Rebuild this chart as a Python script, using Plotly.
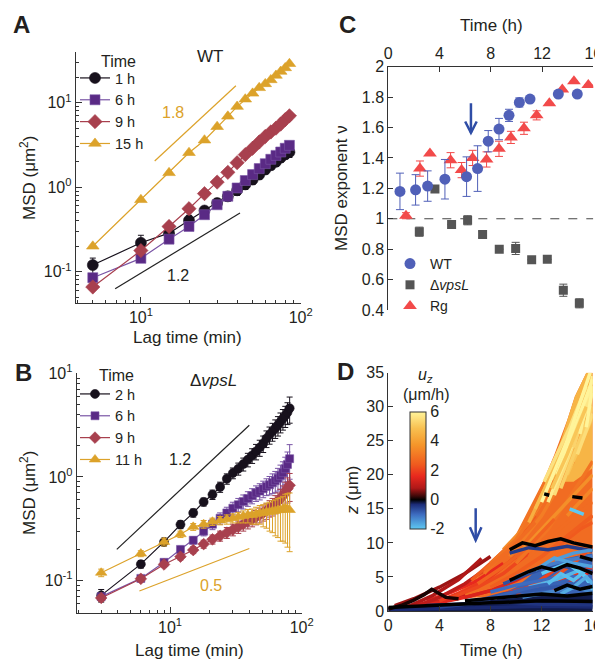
import plotly.graph_objects as go
from plotly.colors import sample_colorscale

FONT = "Liberation Sans, Arial, sans-serif"
TXT = "#231f20"
W, H = 603, 660
PAGE_OFF = 8  # page body margin in the browser

# ---------------- Panel A (WT) ----------------
lag_a = [5, 10, 15, 20, 25, 30, 35, 40, 45, 50, 55, 60, 65, 70, 75, 80, 85]
msd_a_1h = [0.12, 0.22, 0.286, 0.405, 0.53, 0.65, 0.78, 0.92, 1.08, 1.23, 1.41, 1.62, 1.82, 2.0, 2.24, 2.45, 2.6]
err_a_1h = [0.025, 0.05, 0.04, 0.06, 0.06, 0.08, 0.1, 0.12, 0.14, 0.15, 0.17, 0.19, 0.21, 0.24, 0.27, 0.3, 0.35]
msd_a_6h = [0.085, 0.144, 0.243, 0.343, 0.473, 0.62, 0.78, 0.98, 1.2, 1.41, 1.66, 1.9, 2.14, 2.38, 2.61, 2.89, 3.13]
err_a_6h = [0.006, 0.01, 0.015, 0.02, 0.025, 0.03, 0.04, 0.05, 0.06, 0.07, 0.08, 0.09, 0.1, 0.11, 0.12, 0.13, 0.14]
msd_a_9h = [0.066, 0.178, 0.343, 0.557, 0.84, 1.15, 1.5, 1.95, 2.43, 2.89, 3.43, 3.98, 4.5, 5.0, 5.6, 6.3, 7.0]
msd_a_15h = [0.2, 0.71, 1.48, 2.56, 3.6, 5.2, 6.9, 9.0, 11, 12.9, 15, 16.7, 18.6, 21, 23.4, 25.8, 28.9]
ref_a18_x = [12.2, 39.3]
ref_a18_y = [2.04, 15.9]
ref_a12_x = [6.9, 41.7]
ref_a12_y = [0.063, 0.494]

# ---------------- Panel B (delta vpsL) ----------------
lag_b = [3, 6, 9, 12, 15, 18, 21, 24, 27, 30, 33, 36, 39, 42, 45, 48, 51, 54, 57, 60, 63, 66, 69, 72, 75, 78, 81]
msd_b_2h = [0.072, 0.144, 0.236, 0.347, 0.45, 0.574, 0.676, 0.80, 0.96, 1.09, 1.2, 1.33, 1.47, 1.61, 1.76,
            1.92, 2.1, 2.35, 2.55, 2.75, 2.95, 3.15, 3.4, 3.65, 3.9, 4.2, 4.6]
err_b_2h = [0.01, 0.012, 0.02, 0.03, 0.04, 0.05, 0.07, 0.09, 0.11, 0.13, 0.16, 0.19, 0.22, 0.26, 0.3, 0.34,
            0.38, 0.43, 0.48, 0.54, 0.6, 0.67, 0.74, 0.82, 0.9, 1.0, 1.3]
msd_b_6h = [0.07, 0.105, 0.15, 0.2, 0.245, 0.30, 0.35, 0.40, 0.45, 0.50, 0.54, 0.58, 0.62, 0.66, 0.70, 0.73,
            0.77, 0.81, 0.84, 0.88, 0.92, 0.97, 1.03, 1.1, 1.2, 1.32, 1.5]
err_b_6h = [0.005, 0.007, 0.01, 0.015, 0.02, 0.03, 0.04, 0.05, 0.06, 0.07, 0.08, 0.09, 0.1, 0.11, 0.12, 0.13,
            0.14, 0.15, 0.17, 0.19, 0.21, 0.24, 0.27, 0.3, 0.35, 0.42, 0.55]
msd_b_9h = [0.068, 0.104, 0.143, 0.17, 0.197, 0.225, 0.25, 0.27, 0.29, 0.31, 0.33, 0.35, 0.37, 0.39, 0.41, 0.43,
            0.45, 0.47, 0.5, 0.52, 0.55, 0.58, 0.62, 0.66, 0.71, 0.77, 0.83]
err_b_9h = [0.005, 0.006, 0.008, 0.012, 0.015, 0.02, 0.025, 0.03, 0.035, 0.04, 0.045, 0.05, 0.055, 0.06, 0.065,
            0.07, 0.075, 0.08, 0.09, 0.1, 0.11, 0.12, 0.14, 0.16, 0.18, 0.21, 0.25]
msd_b_11h = [0.119, 0.182, 0.236, 0.28, 0.33, 0.35, 0.37, 0.38, 0.39, 0.40, 0.41, 0.42, 0.43, 0.43, 0.44, 0.45,
             0.45, 0.46, 0.46, 0.47, 0.47, 0.48, 0.48, 0.49, 0.50, 0.49, 0.48]
err_b_11h_up = [0.01, 0.012, 0.02, 0.02, 0.025, 0.03, 0.03, 0.035, 0.04, 0.04, 0.045, 0.05, 0.055, 0.06, 0.07,
                0.08, 0.09, 0.1, 0.11, 0.12, 0.13, 0.14, 0.15, 0.16, 0.18, 0.2, 0.22]
err_b_11h_dn = [0.01, 0.012, 0.02, 0.02, 0.025, 0.03, 0.03, 0.035, 0.04, 0.04, 0.05, 0.06, 0.07, 0.08, 0.09,
                0.1, 0.12, 0.14, 0.16, 0.18, 0.2, 0.22, 0.24, 0.25, 0.27, 0.28, 0.29]
ref_b12_x = [3.94, 40.0]
ref_b12_y = [0.2, 3.15]
ref_b05_x = [5.85, 40.0]
ref_b05_y = [0.0794, 0.204]

# ---------------- Panel C (MSD exponent) ----------------
c_wt_t = [0.91, 2.13, 3.07, 4.42, 6.11, 6.97, 7.8, 8.64, 9.42, 10.23, 11.06, 13.27, 14.75]
c_wt_v = [1.18, 1.19, 1.215, 1.26, 1.277, 1.33, 1.51, 1.59, 1.68, 1.765, 1.787, 1.82, 1.82]
c_wt_e = [0.12, 0.1, 0.1, 0.13, 0.13, 0.15, 0.07, 0.07, 0.04, 0.03, 0.01, 0.01, 0.01]
c_dv_t = [2.42, 3.64, 4.94, 6.19, 7.36, 8.66, 9.94, 11.19, 12.41, 13.66, 14.91]
c_dv_v = [0.915, 1.195, 0.963, 0.99, 0.897, 0.80, 0.805, 0.73, 0.733, 0.53, 0.444]
c_dv_e = [0.03, 0.02, 0.0, 0.03, 0.02, 0.0, 0.04, 0.0, 0.0, 0.04, 0.03]
c_rg_t = [1.38, 2.47, 3.25, 4.86, 5.72, 6.58, 7.67, 8.64, 9.57, 10.59, 11.58, 12.57, 13.58, 14.49, 15.61]
c_rg_v = [1.02, 1.33, 1.43, 1.385, 1.32, 1.40, 1.39, 1.46, 1.535, 1.595, 1.68, 1.76, 1.85, 1.905, 1.88]
c_rg_e = [0.02, 0.05, 0.0, 0.05, 0.05, 0.05, 0.05, 0.05, 0.04, 0.04, 0.03, 0.0, 0.0, 0.0, 0.0]
c_ref_level = 1.0
c_arrow = dict(t=6.45, top=1.76, tip=1.565)

# ---------------- Panel D (trajectories) ----------------
uz_min, uz_max = -2, 6
# outline of the dense orange cloud of trajectory points
cloud_t = [5, 6, 7, 8, 9, 9.8, 11, 12, 13, 14, 14.6, 15.5, 16, 16, 13, 10, 7, 5]
cloud_z = [2.2, 3.5, 5, 7, 8.8, 10.5, 14.5, 18.5, 23, 28, 31.5, 35, 35, 3, 2.5, 2, 2, 1.8]
cloud_u = 2.8
# outline of the fast (yellow) upper part of the cloud
yellow_t = [12.4, 13.5, 14.6, 15.5, 16, 16, 14.5, 13]
yellow_z = [20, 25, 31.5, 35, 35, 21, 19, 19]
yellow_u = 4.6
# outline of the dense blue (sinking) mass, lower right
bluemass_t = [8.5, 10, 11, 12, 13, 14, 15, 16, 16, 12, 8.5]
bluemass_z = [2.2, 3.5, 5.0, 6.5, 7.2, 7.8, 8.2, 8.5, 1.2, 1.5, 1.5]
bluemass_u = -0.9
# outline of the dark band near the substrate
band_t = [0, 4, 8, 12, 16, 16, 0]
band_z = [0.5, 0.9, 1.6, 2.2, 2.4, 0, 0]
band_u = -0.2

traj_t = [
    # red / dark red early
    [0, 2, 4, 6], [2, 4, 6, 8], [3, 5, 7, 9], [4, 6, 8, 10], [5, 7, 9, 11], [6, 8, 10, 12],
    [0.5, 2, 4, 6, 8], [1.5, 3.5, 5.5, 7.3], [2, 4, 6, 7.5], [6.5, 8, 9.8, 11.5], [7.5, 9.8, 12.4],
    # orange
    [9, 11, 13, 15], [9.5, 12, 14.5], [10, 12.5, 15, 16], [8, 10, 12], [7.5, 9.5, 11.5], [10.5, 13, 16],
    [11, 14, 16], [12, 14, 16], [13, 15, 16], [7, 9, 11, 13], [14, 16],
    # yellow
    [11, 13, 15], [11.5, 13.5, 15.2], [12.2, 14.2, 15.5], [14, 16], [13.5, 16], [13, 15, 16], [12.5, 14.5, 16],
    [12.0, 14.0, 15.8], [14.5, 16], [15, 16], [13.2, 14.6, 16], [13.8, 15, 16], [14.8, 16], [12.8, 14, 15.5],
    [15.5, 16],
]
traj_z = [
    [0.4, 0.8, 1.5, 2.5], [0.6, 1.2, 2.0, 3.0], [1.5, 2.8, 4.5, 7.0], [1.5, 3.0, 5.0, 8.0], [2, 3.5, 5.5, 8.5],
    [2, 3, 4.5, 6.5],
    [0.8, 1.8, 3.5, 5.5, 8.0], [0.6, 2.3, 4.6, 7.7], [0.6, 2.0, 4.0, 6.0], [4.5, 7.0, 10.2, 14.0],
    [5.5, 10.0, 19.5],
    [9, 13, 19, 26], [8, 14, 22], [7, 12, 19, 22], [7, 10.5, 16], [6, 9, 13], [9, 14, 20],
    [8, 13, 16], [8, 11, 14], [9, 12, 13], [4, 6.5, 9.5, 13.5], [14, 18],
    [13, 21, 29], [15, 23, 31], [19, 27, 33], [20, 28.5], [18, 30], [17, 27, 32], [16, 25, 33],
    [16, 25, 35], [24, 33], [26, 34.5], [20, 27, 34], [22, 28, 32], [23, 29], [18, 23, 30],
    [27, 33],
]
traj_u = [
    1.2, 1.5, 1.6, 1.9, 2.1, 1.4,
    0.7, 0.8, 1.0, 2.4, 3.0,
    3.5, 3.2, 3.0, 3.0, 2.8, 3.6, 2.8, 2.6, 2.4, 2.6, 3.4,
    4.4, 4.8, 5.6, 5.0, 5.2, 5.5, 5.8, 6.0, 5.3, 5.9, 6.0, 5.7, 5.5, 5.0,
    6.0,
]
# trajectories drawn over the blue mass (lower right), then blue and black ones
late_t = [
    [9, 12, 14, 16], [8, 10, 12, 14, 16], [11, 13, 14.5, 16], [12.5, 14, 16], [10, 11.5, 13],
    [0, 3, 6, 9, 12, 16], [3, 6, 9, 12, 16], [7, 9, 11, 13, 15, 16], [8, 10, 12, 14, 16], [9, 11, 13, 15, 16],
    [10, 12, 14, 16], [9.5, 11, 12.5, 14, 16], [11, 13, 15, 16], [12, 14, 15.5, 16], [13, 14.5, 16],
    [10.5, 12.5, 14.5, 16], [14.2, 15.3], [4, 6, 8], [8.5, 10.5, 12, 13.5, 16], [11.5, 13, 14.5, 16],
    [12.5, 13.5, 14.5, 15.5], [13.5, 14.5, 15.5, 16],
    [0, 1, 2, 2.8, 3.4, 3.9, 4.5, 5.5], [9.5, 10.5, 11.5, 12.5, 13.5, 14.5, 16],
    [9.5, 11, 12, 13, 14, 15, 16], [6, 9, 12, 14, 16], [0, 4, 8, 12, 16], [12.2, 12.6], [14.4, 15.2], [15, 16],
    [13, 14, 15, 16],
]
late_z = [
    [2.5, 4.0, 5.0, 6.5], [3.5, 5.5, 8, 11, 14], [3.0, 5.0, 7.0, 9.5], [2.5, 4.0, 6.0], [2.5, 4.0, 6.0],
    [0.2, 0.3, 0.5, 0.6, 0.7, 0.6], [0.8, 1.0, 1.3, 1.0, 0.9], [1.5, 2.5, 3.0, 3.5, 4.0, 3.5],
    [2.8, 3.8, 4.5, 5.2, 4.5], [4.0, 5.5, 6.8, 6.2, 5.8], [5.0, 6.5, 7.5, 8.0], [8.5, 9.3, 9.0, 9.5, 8.8],
    [3.5, 4.5, 6.0, 3.5], [5.5, 7.0, 5.0, 3.0], [7.5, 8.5, 9.0], [2.0, 2.8, 3.5, 2.8], [15.0, 14.2],
    [0.6, 1.0, 1.4], [2.0, 3.2, 3.8, 4.2, 3.8], [6.0, 7.8, 7.0, 6.5],
    [4.0, 5.5, 4.5, 6.0], [2.5, 3.5, 5.0, 4.0],
    [0.3, 0.8, 1.6, 2.4, 3.2, 2.6, 2.0, 1.8], [9.0, 10.0, 9.6, 10.2, 10.6, 10.0, 9.4],
    [4.5, 5.8, 6.5, 6.0, 6.8, 6.3, 5.5], [1.5, 2.0, 2.5, 2.2, 2.6], [0.5, 0.9, 1.2, 1.5, 1.4], [17.2, 17.0],
    [16.8, 16.6], [8, 7.5],
    [3.0, 3.8, 3.2, 3.6],
]
late_u = [
    1.8, 2.5, 2.2, 1.6, 2.0,
    -0.3, -0.4, -0.8, -1.0, -0.7, -1.2, -0.5, -1.8, -2.0, -1.5, -1.3, -2.0, -0.6, -0.9, -1.6,
    -1.9, -1.7,
    0.1, 0.0, 0.0, 0.0, 0.0, 0.0, 0.0, 0.0,
    0.0,
]
d_arrow = dict(t=6.84, top=15.1, tip=10.4)

uz_scale = [
    [0.0, "#5ec8f2"], [0.125, "#3d6cc0"], [0.21, "#1c2c78"], [0.25, "#000000"], [0.28, "#3a0808"],
    [0.35, "#b01818"], [0.45, "#e8281e"], [0.55, "#f05a1e"], [0.72, "#f5962a"], [0.86, "#f8c050"],
    [1.0, "#fff49a"],
]


def ucol(u):
    return sample_colorscale(uz_scale, [(u - uz_min) / (uz_max - uz_min)])[0]


C_BLACK = "#17111c"
C_PURPLE = "#5a2a85"
C_PURPLE_L = "#7a55a6"
C_RED = "#a8404e"
C_GOLD = "#dca22a"

fig = go.Figure()


def msd_trace(x, y, err, color, lcolor, symbol, name, xa, ya, legend, size, err_dn=None):
    ey = None
    if err is not None:
        ey = dict(type="data", array=err, color=lcolor, thickness=1, width=3)
        if err_dn is not None:
            ey["arrayminus"] = err_dn
            ey["symmetric"] = False
    fig.add_trace(go.Scatter(
        x=x, y=y, mode="lines+markers", name=name, xaxis=xa, yaxis=ya, legend=legend,
        line=dict(color=lcolor, width=1.2),
        marker=dict(symbol=symbol, size=size, color=color, line=dict(color=lcolor, width=0.6)),
        error_y=ey,
    ))


# Panel A traces
fig.add_trace(go.Scatter(x=ref_a18_x, y=ref_a18_y, mode="lines", xaxis="x", yaxis="y",
                         line=dict(color=C_GOLD, width=1.2), showlegend=False))
fig.add_trace(go.Scatter(x=ref_a12_x, y=ref_a12_y, mode="lines", xaxis="x", yaxis="y",
                         line=dict(color="#222", width=1.2), showlegend=False))
msd_trace(lag_a, msd_a_1h, err_a_1h, C_BLACK, C_BLACK, "circle", "1 h", "x", "y", "legend", 11)
msd_trace(lag_a, msd_a_6h, err_a_6h, C_PURPLE, C_PURPLE_L, "square", "6 h", "x", "y", "legend", 10)
msd_trace(lag_a, msd_a_9h, None, C_RED, C_RED, "diamond", "9 h", "x", "y", "legend", 11)
msd_trace(lag_a, msd_a_15h, None, C_GOLD, C_GOLD, "triangle-up", "15 h", "x", "y", "legend", 11)

# Panel B traces
fig.add_trace(go.Scatter(x=ref_b12_x, y=ref_b12_y, mode="lines", xaxis="x2", yaxis="y2",
                         line=dict(color="#222", width=1.2), showlegend=False))
fig.add_trace(go.Scatter(x=ref_b05_x, y=ref_b05_y, mode="lines", xaxis="x2", yaxis="y2",
                         line=dict(color=C_GOLD, width=1.2), showlegend=False))
msd_trace(lag_b, msd_b_2h, err_b_2h, C_BLACK, C_BLACK, "circle", "2 h", "x2", "y2", "legend2", 9)
msd_trace(lag_b, msd_b_6h, err_b_6h, C_PURPLE, C_PURPLE_L, "square", "6 h", "x2", "y2", "legend2", 8)
msd_trace(lag_b, msd_b_9h, err_b_9h, C_RED, C_RED, "diamond", "9 h", "x2", "y2", "legend2", 9)
msd_trace(lag_b, msd_b_11h, err_b_11h_up, C_GOLD, C_GOLD, "triangle-up", "11 h", "x2", "y2", "legend2", 10,
          err_dn=err_b_11h_dn)

# Panel C traces
fig.add_trace(go.Scatter(x=[0, 16], y=[c_ref_level, c_ref_level], mode="lines", xaxis="x3", yaxis="y3",
                         line=dict(color="#444", width=1, dash="dash"), showlegend=False))
fig.add_trace(go.Scatter(x=c_rg_t, y=c_rg_v, mode="markers", xaxis="x3", yaxis="y3", legend="legend3",
                         name="Rg", legendrank=3,
                         marker=dict(symbol="triangle-up", size=12, color="#f24a4a"),
                         error_y=dict(array=c_rg_e, color="#f24a4a", thickness=1, width=4)))
fig.add_trace(go.Scatter(x=c_dv_t, y=c_dv_v, mode="markers", xaxis="x3", yaxis="y3", legend="legend3",
                         name="Δ<i>vpsL</i>", legendrank=2,
                         marker=dict(symbol="square", size=9, color="#555555"),
                         error_y=dict(array=c_dv_e, color="#555555", thickness=1, width=4)))
fig.add_trace(go.Scatter(x=c_wt_t, y=c_wt_v, mode="markers", xaxis="x3", yaxis="y3", legend="legend3",
                         name="WT", legendrank=1,
                         marker=dict(symbol="circle", size=11, color="#5060b8"),
                         error_y=dict(array=c_wt_e, color="#5060b8", thickness=1, width=4)))


# Panel D traces
def area(tt, zz, uu):
    fig.add_trace(go.Scatter(x=tt, y=zz, mode="lines", fill="toself", xaxis="x4", yaxis="y4",
                             fillcolor=ucol(uu), line=dict(width=0), showlegend=False, hoverinfo="skip"))


def paths(ts, zs, us, width=3.5):
    for tt, zz, uu in zip(ts, zs, us):
        fig.add_trace(go.Scatter(x=tt, y=zz, mode="lines", xaxis="x4", yaxis="y4",
                                 line=dict(color=ucol(uu), width=width), showlegend=False))


area(cloud_t, cloud_z, cloud_u)
area(yellow_t, yellow_z, yellow_u)
paths(traj_t, traj_z, traj_u)
area(bluemass_t, bluemass_z, bluemass_u)
area(band_t, band_z, band_u)
paths(late_t, late_z, late_u)


# ---------------- Layout helpers ----------------
def px_x(p):
    return (p - PAGE_OFF) / W


def px_y(p):
    return 1 - (p - PAGE_OFF) / H


fig.add_trace(go.Scatter(
    x=[None], y=[None], mode="markers", xaxis="x4", yaxis="y4", showlegend=False,
    marker=dict(color=[uz_min], cmin=uz_min, cmax=uz_max, colorscale=uz_scale, showscale=True,
                colorbar=dict(thickness=16, thicknessmode="pixels", len=117, lenmode="pixels",
                              x=px_x(410), xanchor="left", y=px_y(470), yanchor="middle",
                              xpad=0, ypad=0, outlinewidth=1, outlinecolor="#333",
                              tickvals=[-2, 0, 2, 4, 6], ticktext=["-2", "0", "2", "4", "6"],
                              ticks="", tickfont=dict(size=16, color=TXT, family=FONT))),
))

log_axis_common = dict(type="log", showline=True, linecolor="#333", linewidth=1, ticks="inside",
                       ticklen=6, tickcolor="#333", showgrid=False, zeroline=False, mirror=False,
                       automargin=False,
                       tickfont=dict(size=16, color=TXT, family=FONT), tickmode="array")
minors_x = [4, 5, 6, 7, 8, 9, 20, 30, 40, 50, 60, 70, 80, 90]
minors_xb = [2, 3, 4, 5, 6, 7, 8, 9, 20, 30, 40, 50, 60, 70, 80, 90]
minors_y = [0.05, 0.06, 0.07, 0.08, 0.09, 0.2, 0.3, 0.4, 0.5, 0.6, 0.7, 0.8, 0.9, 2, 3, 4, 5, 6, 7, 8, 9, 20, 30]
dec_vals = [0.1, 1, 10, 100]
dec_text = ["10<sup>-1</sup>", "10<sup>0</sup>", "10<sup>1</sup>", "10<sup>2</sup>"]
minor_style = dict(ticks="inside", ticklen=3, tickcolor="#333", showgrid=False, tickmode="array")

lin_common = dict(showline=True, linecolor="#333", linewidth=1, ticks="inside", ticklen=5, tickcolor="#333",
                  showgrid=False, zeroline=False, mirror=False, automargin=False,
                  tickfont=dict(size=16, color=TXT, family=FONT))

leg_common = dict(bgcolor="rgba(0,0,0,0)", borderwidth=0, font=dict(size=14.5, color=TXT, family=FONT),
                  xanchor="left", yanchor="top", itemwidth=30, tracegroupgap=0)

fig.update_layout(
    width=W, height=H, margin=dict(l=0, r=0, t=0, b=0, autoexpand=False),
    paper_bgcolor="white", plot_bgcolor="white",
    font=dict(family=FONT, color=TXT, size=16),
    xaxis=dict(log_axis_common, domain=[px_x(75.7), px_x(300.7)], range=[0.592, 2.0], anchor="y",
               tickvals=dec_vals, ticktext=dec_text, minor=dict(minor_style, tickvals=minors_x)),
    yaxis=dict(log_axis_common, domain=[px_y(303), px_y(52)], range=[-1.37, 1.6], anchor="x",
               tickvals=dec_vals, ticktext=dec_text, minor=dict(minor_style, tickvals=minors_y)),
    xaxis2=dict(log_axis_common, domain=[px_x(76.7), px_x(301.7)], range=[0.291, 2.0], anchor="y2",
                tickvals=dec_vals, ticktext=dec_text, minor=dict(minor_style, tickvals=minors_xb)),
    yaxis2=dict(log_axis_common, domain=[px_y(612.7), px_y(373.3)], range=[-1.31, 1.0], anchor="x2",
                tickvals=dec_vals, ticktext=dec_text, minor=dict(minor_style, tickvals=minors_y)),
    xaxis3=dict(lin_common, domain=[px_x(388.3), px_x(593.3)], range=[0, 16], anchor="y3", side="top",
                tickvals=[0, 4, 8, 12, 16]),
    yaxis3=dict(lin_common, domain=[px_y(310), px_y(66.7)], range=[0.4, 2.0], anchor="x3",
                tickvals=[0.4, 0.6, 0.8, 1.0, 1.2, 1.4, 1.6, 1.8, 2.0],
                ticktext=["0.4", "0.6", "0.8", "1", "1.2", "1.4", "1.6", "1.8", "2"]),
    xaxis4=dict(lin_common, domain=[px_x(388.3), px_x(592.7)], range=[0, 16], anchor="y4",
                tickvals=[0, 4, 8, 12, 16]),
    yaxis4=dict(lin_common, domain=[px_y(611), px_y(372.7)], range=[0, 35], anchor="x4",
                tickvals=[0, 5, 10, 15, 20, 25, 30, 35]),
    legend=dict(leg_common, x=px_x(75), y=px_y(62)),
    legend2=dict(leg_common, x=px_x(75), y=px_y(378)),
    legend3=dict(leg_common, x=px_x(390), y=px_y(248), font=dict(size=14, color=TXT, family=FONT)),
)

ann = []


def text(xp, yp, s, size=16, color=TXT, angle=0, xanchor="center"):
    ann.append(dict(x=px_x(xp), y=px_y(yp), xref="paper", yref="paper", text=s, showarrow=False,
                    font=dict(size=size, color=color, family=FONT), textangle=angle,
                    xanchor=xanchor, yanchor="middle"))


for lab, xp, yp in [("A", 21, 24), ("B", 23, 372), ("C", 347, 24), ("D", 345, 371)]:
    text(xp, yp, "<b>" + lab + "</b>", size=24)

text(118, 61, "Time", 16)
text(116, 375, "Time", 16)
text(210, 57, "WT", 17)
text(213, 380, "Δ<i>vpsL</i>", 17)
text(173, 113, "1.8", 16, C_GOLD)
text(178, 275, "1.2", 16)
text(180, 459, "1.2", 16)
text(211, 585, "0.5", 16, C_GOLD)
text(188, 337, "Lag time (min)", 17)
text(189, 650, "Lag time (min)", 17)
text(28, 178, "MSD (μm<sup>2</sup>)", 17, angle=-90)
text(28, 493, "MSD (μm<sup>2</sup>)", 17, angle=-90)
text(491, 25, "Time (h)", 17)
text(491, 650, "Time (h)", 17)
text(341, 188, "MSD exponent ν", 17, angle=-90)
text(352, 490, "<i>z</i> (μm)", 17, angle=-90)
text(425, 375, "<i>u</i><sub><i>z</i></sub>", 16)
text(426, 394, "(μm/h)", 16)
fig.update_layout(annotations=ann)

# Arrows drawn as chevron paths in data space
shapes = []


def arrow(xref, yref, t, top, tip, hw, hh):
    shapes.append(dict(type="line", xref=xref, yref=yref, x0=t, x1=t, y0=top, y1=tip,
                       line=dict(color="#2f4da6", width=2.5)))
    shapes.append(dict(type="path", xref=xref, yref=yref,
                       path=f"M {t - hw},{tip + hh} L {t},{tip} L {t + hw},{tip + hh}",
                       line=dict(color="#2f4da6", width=2.5)))


arrow("x3", "y3", c_arrow["t"], c_arrow["top"], c_arrow["tip"], 0.45, 0.075)
arrow("x4", "y4", d_arrow["t"], d_arrow["top"], d_arrow["tip"], 0.45, 1.9)
fig.update_layout(shapes=shapes)

fig.write_html("out.html")
